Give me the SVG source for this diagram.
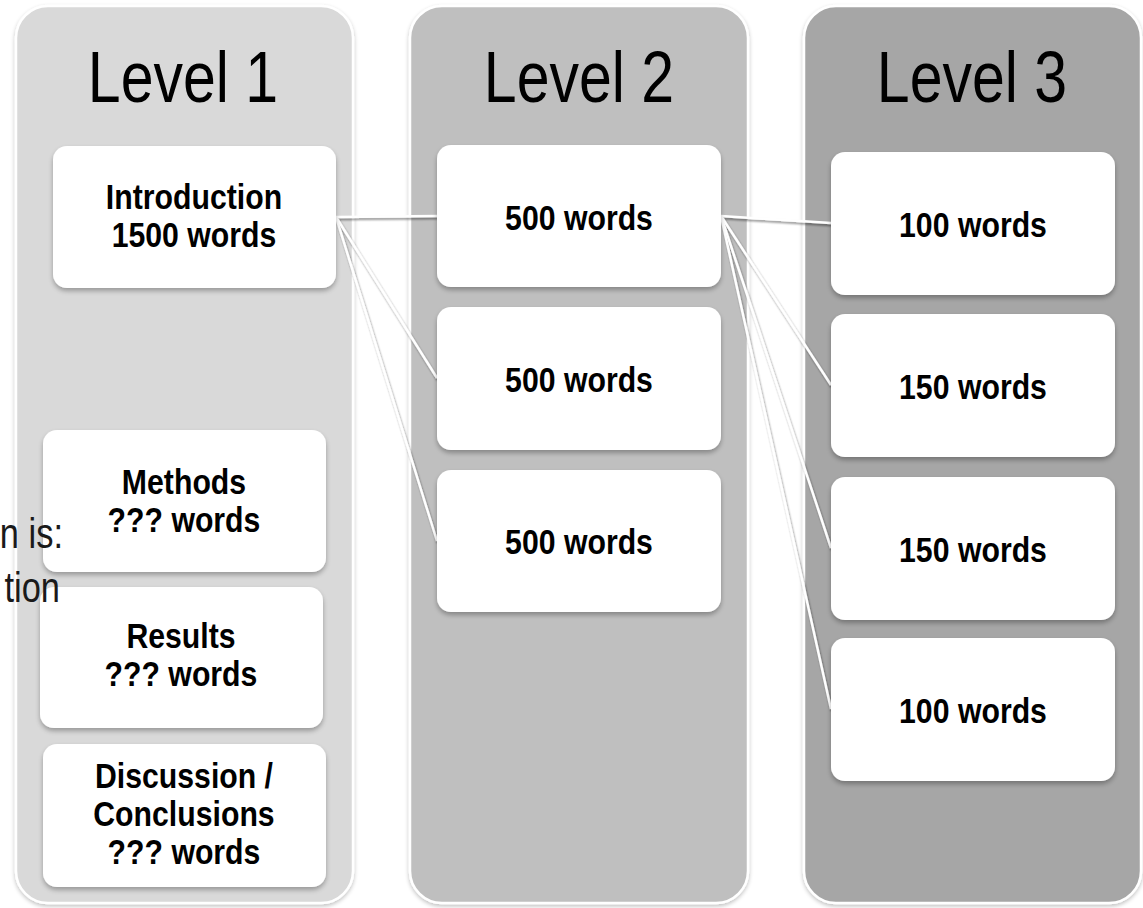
<svg xmlns="http://www.w3.org/2000/svg" width="1143" height="908" viewBox="0 0 1143 908">
  <defs>
    <filter id="colShadow" x="-5%" y="-5%" width="110%" height="110%">
      <feGaussianBlur in="SourceAlpha" stdDeviation="2"/>
      <feOffset dx="0" dy="2" result="b"/>
      <feComponentTransfer><feFuncA type="linear" slope="0.25"/></feComponentTransfer>
      <feMerge><feMergeNode/><feMergeNode in="SourceGraphic"/></feMerge>
    </filter>
    <filter id="boxShadow" x="-10%" y="-10%" width="120%" height="125%">
      <feGaussianBlur in="SourceAlpha" stdDeviation="2.5"/>
      <feOffset dx="0" dy="3" result="b"/>
      <feComponentTransfer><feFuncA type="linear" slope="0.3"/></feComponentTransfer>
      <feMerge><feMergeNode/><feMergeNode in="SourceGraphic"/></feMerge>
    </filter>
    <filter id="lineShadow" filterUnits="userSpaceOnUse" x="300" y="180" width="560" height="560">
      <feGaussianBlur in="SourceAlpha" stdDeviation="1.3"/>
      <feOffset dx="1" dy="2" result="b"/>
      <feComponentTransfer><feFuncA type="linear" slope="0.45"/></feComponentTransfer>
      <feMerge><feMergeNode/><feMergeNode in="SourceGraphic"/></feMerge>
    </filter>
  </defs>
  <style>
    .col { stroke: #ffffff; stroke-width: 2.5; filter: url(#colShadow); }
    .box { fill: #ffffff; filter: url(#boxShadow); }
    text { font-family: "Liberation Sans", Arial, sans-serif; fill: #000000; transform-box: fill-box; }
    .title { font-size: 72px; text-anchor: middle; transform: scaleX(0.82); transform-origin: center; }
    .lbl { font-size: 36px; font-weight: bold; text-anchor: middle; transform: scaleX(0.84); transform-origin: center; }
    .side { font-size: 42px; fill: #1a1a1a; text-anchor: end; transform: scaleX(0.82); transform-origin: right; }
    .conn { stroke: #ffffff; stroke-width: 2.5; fill: none; }
  </style>

  <!-- level columns -->
  <g id="level1">
    <rect class="col" x="16" y="6" width="337" height="897" rx="32" fill="#d9d9d9"/>
    <text class="title" x="183" y="102">Level 1</text>
  </g>
  <g id="level2">
    <rect class="col" x="410" y="6" width="338" height="897" rx="32" fill="#bfbfbf"/>
    <text class="title" x="579" y="102">Level 2</text>
  </g>
  <g id="level3">
    <rect class="col" x="804" y="6" width="337" height="897" rx="32" fill="#a6a6a6"/>
    <text class="title" x="972" y="102">Level 3</text>
  </g>

  <!-- connectors -->
  <g id="connectors" filter="url(#lineShadow)">
    <line class="conn" x1="336" y1="217" x2="437" y2="216"/>
    <line class="conn" x1="336" y1="217" x2="437" y2="378"/>
    <line class="conn" x1="336" y1="217" x2="437" y2="541"/>
    <line class="conn" x1="721" y1="216" x2="831" y2="223"/>
    <line class="conn" x1="721" y1="216" x2="831" y2="385"/>
    <line class="conn" x1="721" y1="216" x2="831" y2="548"/>
    <line class="conn" x1="721" y1="216" x2="831" y2="709"/>
  </g>

  <!-- level 1 nodes -->
  <g id="intro">
    <rect class="box" x="53" y="146" width="283" height="142" rx="14"/>
    <text class="lbl" x="194" y="209">Introduction</text>
    <text class="lbl" x="194" y="247">1500 words</text>
  </g>
  <g id="methods">
    <rect class="box" x="43" y="430" width="283" height="142" rx="14"/>
    <text class="lbl" x="184" y="494">Methods</text>
    <text class="lbl" x="184" y="532">??? words</text>
  </g>
  <g id="results">
    <rect class="box" x="40" y="587" width="283" height="141" rx="14"/>
    <text class="lbl" x="181" y="648">Results</text>
    <text class="lbl" x="181" y="686">??? words</text>
  </g>
  <g id="discussion">
    <rect class="box" x="43" y="744" width="283" height="143" rx="14"/>
    <text class="lbl" x="184" y="788">Discussion /</text>
    <text class="lbl" x="184" y="826">Conclusions</text>
    <text class="lbl" x="184" y="864">??? words</text>
  </g>

  <!-- level 2 nodes -->
  <g id="l2a">
    <rect class="box" x="437" y="145" width="284" height="142" rx="14"/>
    <text class="lbl" x="579" y="230">500 words</text>
  </g>
  <g id="l2b">
    <rect class="box" x="437" y="307" width="284" height="143" rx="14"/>
    <text class="lbl" x="579" y="392">500 words</text>
  </g>
  <g id="l2c">
    <rect class="box" x="437" y="470" width="284" height="142" rx="14"/>
    <text class="lbl" x="579" y="554">500 words</text>
  </g>

  <!-- level 3 nodes -->
  <g id="l3a">
    <rect class="box" x="831" y="152" width="284" height="143" rx="14"/>
    <text class="lbl" x="973" y="237">100 words</text>
  </g>
  <g id="l3b">
    <rect class="box" x="831" y="314" width="284" height="143" rx="14"/>
    <text class="lbl" x="973" y="399">150 words</text>
  </g>
  <g id="l3c">
    <rect class="box" x="831" y="477" width="284" height="143" rx="14"/>
    <text class="lbl" x="973" y="562">150 words</text>
  </g>
  <g id="l3d">
    <rect class="box" x="831" y="638" width="284" height="143" rx="14"/>
    <text class="lbl" x="973" y="723">100 words</text>
  </g>

  <!-- partial caption at the left edge -->
  <g id="caption">
    <text class="side" x="63" y="548">n is:</text>
    <text class="side" x="60" y="602">tion</text>
  </g>
</svg>
